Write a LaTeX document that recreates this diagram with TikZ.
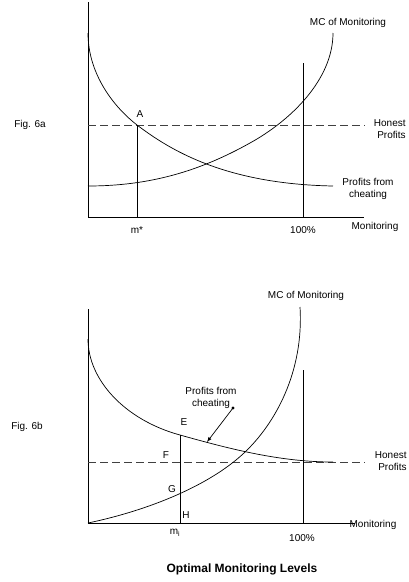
\documentclass[tikz,border=0pt]{standalone}
\usepackage{fontspec}
\setmainfont{Liberation Sans}
\usetikzlibrary{positioning}

\begin{document}
\begin{tikzpicture}[x=1pt,y=-1pt,line width=0.7pt,
    every node/.style={inner sep=0pt,font=\fontsize{10}{12}\selectfont},
    honest/.style={dash pattern=on 8pt off 4pt,black!75}]
\useasboundingbox (0,0) rectangle (408,582);

% Fig. 6a
\coordinate (a1) at (88,2);
\coordinate (a2) at (88,217);
\coordinate (a3) at (364,217);
\coordinate (a4) at (88,125);
\coordinate (a5) at (365,125);
\coordinate (aA) at (137,125);
\coordinate (am) at (137,217);
\coordinate (a6) at (303,63);
\coordinate (a7) at (303,217);
\coordinate (ac1) at (88,33);
\coordinate (ac2) at (333,186);
\coordinate (amc1) at (88,186);
\coordinate (amc2) at (250,143);
\coordinate (amc3) at (333,33);
\draw (a1) -- (a2) -- (a3);
\draw[honest] (a4) -- (a5);
\draw (aA) -- (am);
\draw (a6) -- (a7);
\draw (ac1) .. controls (88,75) and (115,108) .. (aA)
    .. controls (170,150) and (225,184) .. (ac2);
\draw (amc1) .. controls (150,186) and (200,171) .. (amc2)
    .. controls (290,121) and (333,80) .. (amc3);
\node (fa) at (30,125) {Fig. 6a};
\node (mca) at (348,23) {MC of Monitoring};
\node (la) at (140,114) {A};
\node[align=right,anchor=east] (hpa) at (406,129) {Honest\\Profits};
\node[align=center] (pca) at (368,188.5) {Profits from\\cheating};
\node (msa) at (137,230) {m*};
\node (ha) at (303,230) {100\%};
\node (mona) at (375,227) {Monitoring};

% Fig. 6b
\coordinate (b1) at (88,309);
\coordinate (b2) at (88,523);
\coordinate (b3) at (355,523);
\coordinate (b4) at (88,462);
\coordinate (b5) at (365,462);
\coordinate (bE) at (180,435);
\coordinate (bH) at (180,523);
\coordinate (b6) at (303,370);
\coordinate (b7) at (303,523);
\coordinate (bc1) at (88,339);
\coordinate (bc2) at (333,462);
\coordinate (bmc1) at (244,453);
\coordinate (bmc2) at (300,307);
\coordinate (bdot) at (233,408);
\coordinate (btip) at (207,442);
\draw (b1) -- (b2) -- (b3);
\draw[honest] (b4) -- (b5);
\draw (bE) -- (bH);
\draw (b6) -- (b7);
\draw (bc1) .. controls (88,380) and (125,420) .. (bE)
    .. controls (230,449) and (280,462) .. (bc2);
\draw (b2) .. controls (150,510) and (210,485) .. (bmc1)
    .. controls (275,424) and (304,372) .. (bmc2);
\fill (bdot) circle (1.6);
\draw[-latex] (bdot) -- (btip);
\node (fb) at (27,427) {Fig. 6b};
\node (mcb) at (306,296) {MC of Monitoring};
\node[align=center] (pcb) at (211,397.5) {Profits from\\cheating};
\node (lE) at (184,422) {E};
\node (lF) at (166,455) {F};
\node (lG) at (172,489) {G};
\node (lH) at (186,515) {H};
\node (mib) at (175,533) {m\textsubscript{i}};
\node (hb) at (302,538) {100\%};
\node (monb) at (373,525) {Monitoring};
\node[align=right,anchor=east] (hpb) at (407,461) {Honest\\Profits};
\node[font=\fontsize{12}{14}\selectfont\bfseries] (title) at (242,569) {Optimal Monitoring Levels};
\end{tikzpicture}
\end{document}
